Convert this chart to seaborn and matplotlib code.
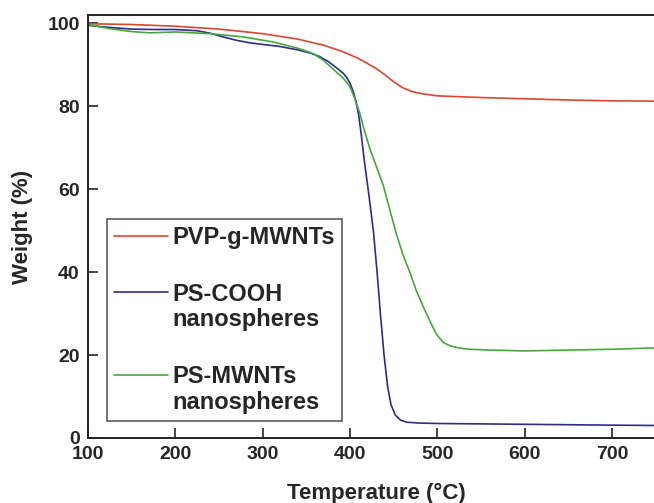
import pandas as pd
import matplotlib.pyplot as plt
import seaborn as sns
from matplotlib.lines import Line2D

# 数据
pvp_temp = [100, 150, 200, 250, 300, 340, 370, 390, 400, 410, 420, 430, 440, 450,
            460, 470, 480, 500, 550, 600, 650, 700, 760]
pvp_weight = [99.9, 99.7, 99.3, 98.6, 97.5, 96.2, 94.7, 93.3, 92.4, 91.5, 90.3, 89.1,
              87.6, 85.9, 84.5, 83.6, 83.1, 82.5, 82.1, 81.8, 81.5, 81.3, 81.2]

ps_temp = [100, 125, 150, 175, 200, 225, 240, 255, 270, 285, 300, 320, 340, 355,
           365, 375, 385, 392, 396, 400, 404, 407, 410, 413, 416, 422, 427, 431,
           435, 439, 443, 447, 452, 458, 465, 480, 500, 600, 700, 760]
ps_weight = [99.5, 99.0, 98.6, 98.5, 98.5, 98.2, 97.6, 96.7, 95.9, 95.3, 94.9, 94.4,
             93.6, 92.8, 92.0, 90.8, 89.2, 88.0, 87.0, 85.6, 83.3, 81.0, 77.8, 73.0,
             67.5, 58.0, 49.5, 40.0, 29.5, 20.0, 12.5, 8.0, 5.5, 4.3, 3.8, 3.6, 3.5,
             3.3, 3.1, 3.0]

mw_temp = [100, 125, 150, 171, 200, 240, 278, 312, 340, 358, 370, 381, 392, 397,
           401, 405, 411, 416, 423, 430, 438, 445, 453, 461, 469, 476, 484, 492,
           499, 507, 515, 525, 537, 560, 600, 650, 700, 760]
mw_weight = [99.7, 98.7, 98.0, 97.7, 97.9, 97.5, 96.7, 95.5, 94.0, 92.7, 91.0, 88.9,
             86.8, 85.6, 84.2, 82.1, 78.5, 74.5, 69.6, 65.6, 61.0, 55.5, 49.3, 44.0,
             39.7, 35.5, 31.6, 28.0, 25.0, 23.0, 22.2, 21.7, 21.4, 21.2, 21.0, 21.2,
             21.4, 21.8]

samples = ['PVP-g-MWNTs', 'PS-COOH nanospheres', 'PS-MWNTs nanospheres']
colors = ['#d9472f', '#2e2b8c', '#45a83a']

df = pd.concat([
    pd.DataFrame({'T': pvp_temp, 'W': pvp_weight, 'sample': samples[0]}),
    pd.DataFrame({'T': ps_temp, 'W': ps_weight, 'sample': samples[1]}),
    pd.DataFrame({'T': mw_temp, 'W': mw_weight, 'sample': samples[2]}),
])

sns.set_theme(style="ticks")
plt.rcParams['font.family'] = ['Liberation Sans', 'DejaVu Sans']
plt.rcParams['font.weight'] = 'bold'

fig = plt.figure(figsize=(6.54, 5.03), dpi=100)
ax = fig.add_axes([88 / 654, 65 / 503, 660 * 0.8733 / 654, 423 / 503])
sns.lineplot(data=df, x='T', y='W', hue='sample', palette=colors, sort=False,
             linewidth=1.2, legend=False, ax=ax)

ax.set_xlim(100, 760)
ax.set_ylim(0, 102)
ax.set_xticks(range(100, 800, 100))
ax.set_yticks(range(0, 101, 20))
ax.tick_params(direction='in', length=7, width=1.2, labelsize=14, pad=6, color='#222222')
for lab in ax.get_xticklabels() + ax.get_yticklabels():
    lab.set_fontweight('bold')
for s in ax.spines.values():
    s.set_linewidth(1.4)
    s.set_color('#222222')

ax.set_xlabel('Temperature (°C)', fontsize=16, fontweight='bold', labelpad=14)
ax.set_ylabel('Weight (%)', fontsize=16, fontweight='bold', labelpad=10)

# legend: handle sits next to the first line of each label
lines = ax.get_lines()
blank = Line2D([], [], color='none')
handles = [lines[0], blank, lines[1], blank, blank, lines[2], blank]
labels = ['PVP-g-MWNTs', ' ', 'PS-COOH', 'nanospheres', ' ', 'PS-MWNTs', 'nanospheres']
leg = ax.legend(handles, labels, loc='lower left', bbox_to_anchor=(0.033, 0.04),
                borderaxespad=0, fancybox=False, frameon=True, edgecolor='#333333',
                handlelength=2.3, handletextpad=0.15, labelspacing=0.12,
                borderpad=0.3, prop={'weight': 'bold', 'size': 17})
leg.get_frame().set_linewidth(1.2)
# spacer rows a bit taller than text rows
for i in (1, 4):
    leg.get_texts()[i].set_fontsize(21.5)

plt.savefig('out.png', dpi=100)
